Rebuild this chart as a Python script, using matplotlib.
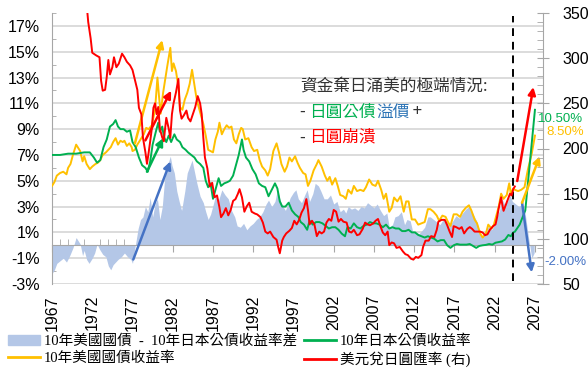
import matplotlib
matplotlib.use("Agg")
import matplotlib.pyplot as plt
from matplotlib.ticker import MultipleLocator
from matplotlib.offsetbox import TextArea, HPacker, VPacker, AnchoredOffsetbox
from matplotlib.patches import Patch
from matplotlib.lines import Line2D

# ---- data ----
us_years = [1967.0, 1967.3, 1967.6, 1968.0, 1968.4, 1968.8, 1969.0, 1969.3, 1969.6, 1970.0, 1970.2, 1970.5,
            1970.8, 1971.0, 1971.3, 1971.7, 1972.0, 1972.4, 1972.7, 1973.0, 1973.3, 1973.7, 1974.0, 1974.3,
            1974.6, 1974.9, 1975.2, 1975.5, 1975.8, 1976.0, 1976.3, 1976.6, 1976.9, 1977.0, 1977.3, 1977.6,
            1978.0, 1978.4, 1978.7, 1979.0, 1979.4, 1979.8, 1980.1, 1980.3, 1980.5, 1980.8, 1981.0, 1981.3,
            1981.7, 1981.9, 1982.1, 1982.4, 1982.7, 1982.9, 1983.2, 1983.5, 1983.8, 1984.1, 1984.4, 1984.7,
            1984.9, 1985.1, 1985.4, 1985.8, 1986.1, 1986.4, 1986.7, 1987.0, 1987.3, 1987.6, 1987.8, 1988.1,
            1988.4, 1988.7, 1989.0, 1989.3, 1989.6, 1989.9, 1990.2, 1990.5, 1990.7, 1991.0, 1991.4, 1991.8,
            1992.1, 1992.5, 1992.8, 1993.1, 1993.5, 1993.8, 1994.1, 1994.5, 1994.9, 1995.2, 1995.5, 1995.9,
            1996.2, 1996.5, 1996.8, 1997.2, 1997.5, 1997.8, 1998.2, 1998.5, 1998.8, 1999.1, 1999.5, 1999.9,
            2000.1, 2000.5, 2000.9, 2001.2, 2001.5, 2001.8, 2002.2, 2002.5, 2002.8, 2003.2, 2003.5, 2003.8,
            2004.2, 2004.5, 2004.9, 2005.3, 2005.7, 2006.0, 2006.4, 2006.8, 2007.2, 2007.5, 2007.9, 2008.2,
            2008.5, 2008.9, 2009.2, 2009.5, 2009.9, 2010.3, 2010.7, 2011.0, 2011.3, 2011.7, 2012.1, 2012.5,
            2012.9, 2013.3, 2013.7, 2014.0, 2014.4, 2014.8, 2015.1, 2015.5, 2015.9, 2016.2, 2016.5, 2016.9,
            2017.3, 2017.7, 2018.0, 2018.4, 2018.8, 2019.1, 2019.5, 2019.8, 2020.2, 2020.5, 2020.9, 2021.2,
            2021.6, 2021.9, 2022.2, 2022.5, 2022.8, 2023.1, 2023.5, 2023.8, 2024.0, 2024.3, 2024.5, 2024.9,
            2025.3, 2025.7, 2026.1, 2026.6, 2027.0]
us_yield = [4.6, 4.9, 5.4, 5.6, 5.7, 5.5, 6.0, 6.3, 7.0, 7.8, 7.6, 7.3,
            6.5, 6.9, 6.3, 5.9, 6.1, 6.3, 6.4, 6.6, 7.0, 7.2, 7.4, 7.6,
            8.0, 8.3, 7.8, 8.1, 8.0, 8.1, 7.7, 7.9, 7.6, 7.3, 7.4, 7.8,
            8.2, 8.6, 9.1, 9.0, 9.3, 10.5, 13.0, 11.5, 10.2, 11.8, 12.6, 13.8,
            15.3, 13.5, 14.1, 13.5, 12.3, 10.7, 10.5, 11.3, 11.8, 12.5, 13.6, 12.4,
            11.6, 11.0, 10.3, 9.4, 8.5, 7.4, 7.3, 7.2, 8.2, 8.8, 9.5, 8.6,
            9.0, 9.3, 9.1, 9.2, 8.2, 7.9, 8.6, 9.1, 9.0, 8.2, 8.3, 7.6,
            7.3, 7.4, 6.6, 6.1, 5.8, 5.4, 5.9, 7.3, 7.9, 7.2, 6.3, 5.7,
            6.1, 6.8, 6.5, 6.9, 6.4, 6.0, 5.6, 5.5, 4.6, 5.0, 5.8, 6.3,
            6.6, 6.1, 5.4, 5.0, 5.3, 4.7, 5.2, 4.6, 3.9, 3.8, 3.6, 4.3,
            4.0, 4.6, 4.2, 4.3, 4.2, 4.5, 5.1, 4.7, 4.6, 5.0, 4.3, 3.6,
            4.0, 2.6, 2.9, 3.7, 3.4, 3.8, 2.6, 3.4, 3.4, 2.0, 2.0, 1.6,
            1.7, 1.8, 2.8, 2.8, 2.6, 2.3, 1.9, 2.3, 2.2, 1.8, 1.5, 2.4,
            2.4, 2.2, 2.6, 2.9, 3.1, 2.7, 2.0, 1.7, 0.9, 0.6, 0.9, 1.6,
            1.3, 1.6, 2.3, 3.0, 4.0, 3.6, 3.9, 4.8, 4.0, 4.4, 4.3, 4.2,
            4.3, 4.5, 5.8, 7.1, 8.5]

jp_years = [1967.0, 1968.0, 1969.0, 1970.0, 1971.0, 1971.7, 1972.2, 1972.6, 1973.0, 1973.4, 1973.8, 1974.2,
            1974.6, 1974.9, 1975.2, 1975.5, 1975.9, 1976.3, 1976.7, 1977.0, 1977.4, 1977.8, 1978.2, 1978.6,
            1978.9, 1979.2, 1979.5, 1979.9, 1980.2, 1980.4, 1980.7, 1980.9, 1981.2, 1981.5, 1981.8, 1982.2,
            1982.5, 1982.9, 1983.2, 1983.6, 1983.9, 1984.3, 1984.7, 1985.0, 1985.4, 1985.8, 1986.1, 1986.4,
            1986.7, 1987.0, 1987.3, 1987.7, 1988.0, 1988.4, 1988.8, 1989.1, 1989.5, 1989.9, 1990.2, 1990.6,
            1990.8, 1991.1, 1991.5, 1991.9, 1992.3, 1992.7, 1993.1, 1993.5, 1993.9, 1994.3, 1994.7, 1995.0,
            1995.3, 1995.6, 1996.0, 1996.4, 1996.8, 1997.2, 1997.6, 1997.9, 1998.3, 1998.7, 1999.0, 1999.4,
            1999.8, 2000.2, 2000.6, 2001.0, 2001.4, 2001.8, 2002.2, 2002.6, 2003.0, 2003.4, 2003.7, 2004.1,
            2004.5, 2004.9, 2005.3, 2005.7, 2006.1, 2006.5, 2006.9, 2007.3, 2007.7, 2008.1, 2008.5, 2008.9,
            2009.3, 2009.7, 2010.1, 2010.5, 2010.9, 2011.3, 2011.7, 2012.1, 2012.5, 2012.9, 2013.3, 2013.7,
            2014.1, 2014.5, 2014.9, 2015.3, 2015.7, 2016.1, 2016.5, 2016.9, 2017.3, 2017.7, 2018.1, 2018.5,
            2018.9, 2019.3, 2019.7, 2020.1, 2020.5, 2020.9, 2021.3, 2021.7, 2022.1, 2022.5, 2022.9, 2023.3,
            2023.7, 2024.0, 2024.3, 2024.5, 2025.1, 2025.8, 2026.4, 2027.0]
jp_yield = [7.0, 7.0, 7.1, 7.1, 7.2, 7.2, 6.8, 6.4, 6.6, 7.6, 8.2, 9.2,
            9.4, 9.7, 9.2, 9.0, 9.0, 8.8, 8.9, 8.0, 7.6, 6.8, 6.2, 6.0,
            5.7, 6.5, 7.8, 8.8, 9.5, 8.8, 9.2, 8.4, 8.0, 8.5, 8.0, 8.6,
            8.2, 8.0, 7.6, 7.4, 7.2, 7.0, 6.8, 6.5, 6.3, 6.0, 5.0, 4.5,
            4.8, 3.6, 4.3, 5.2, 4.6, 4.8, 4.9, 5.0, 5.4, 6.3, 7.0, 8.2,
            7.4, 6.8, 6.5, 5.9, 5.5, 4.8, 4.6, 4.5, 3.8, 4.3, 4.8, 4.4,
            3.4, 3.0, 3.0, 3.3, 2.7, 2.4, 2.2, 1.8, 1.6, 1.2, 1.9, 1.6,
            1.8, 1.8, 1.7, 1.5, 1.3, 1.4, 1.4, 1.2, 0.9, 0.7, 1.4, 1.3,
            1.7, 1.4, 1.3, 1.5, 1.6, 1.8, 1.7, 1.7, 1.6, 1.4, 1.6, 1.3,
            1.4, 1.3, 1.3, 1.1, 1.1, 1.2, 1.0, 1.0, 0.8, 0.7, 0.6, 0.7,
            0.6, 0.5, 0.3, 0.4, 0.4, 0.0, -0.2, 0.0, 0.1, 0.05, 0.05, 0.05,
            0.1, -0.05, -0.2, -0.05, 0.0, 0.03, 0.1, 0.05, 0.2, 0.25, 0.3, 0.45,
            0.8, 0.7, 1.0, 1.05, 1.6, 2.7, 6.6, 10.5]

spread_years = [1967.0, 1967.3, 1967.6, 1968.0, 1968.4, 1968.8, 1969.2, 1969.6, 1970.0, 1970.2, 1970.5, 1970.8,
                1971.0, 1971.3, 1971.6, 1972.0, 1972.3, 1972.6, 1972.9, 1973.3, 1973.7, 1974.0, 1974.3, 1974.6,
                1974.9, 1975.2, 1975.6, 1976.0, 1976.4, 1976.8, 1977.0, 1977.3, 1977.7, 1978.0, 1978.3, 1978.6,
                1978.9, 1979.2, 1979.5, 1979.8, 1980.1, 1980.4, 1980.7, 1981.0, 1981.4, 1981.7, 1981.9, 1982.2,
                1982.5, 1982.8, 1983.1, 1983.5, 1983.8, 1984.1, 1984.4, 1984.7, 1985.0, 1985.4, 1985.8, 1986.1,
                1986.4, 1986.7, 1987.0, 1987.3, 1987.7, 1988.1, 1988.5, 1988.9, 1989.3, 1989.7, 1990.0, 1990.4,
                1990.8, 1991.2, 1991.6, 1992.0, 1992.4, 1992.8, 1993.2, 1993.6, 1993.9, 1994.3, 1994.7, 1995.0,
                1995.3, 1995.6, 1996.0, 1996.3, 1996.6, 1997.0, 1997.3, 1997.6, 1998.0, 1998.4, 1998.7, 1999.0,
                1999.4, 1999.7, 2000.1, 2000.4, 2000.8, 2001.2, 2001.6, 2002.0, 2002.4, 2002.8, 2003.2, 2003.5,
                2003.8, 2004.2, 2004.6, 2005.0, 2005.4, 2005.8, 2006.2, 2006.6, 2007.0, 2007.4, 2007.8, 2008.2,
                2008.6, 2008.9, 2009.3, 2009.6, 2010.0, 2010.4, 2010.8, 2011.1, 2011.5, 2011.8, 2012.2, 2012.6,
                2012.9, 2013.3, 2013.7, 2014.0, 2014.4, 2014.8, 2015.2, 2015.6, 2016.0, 2016.4, 2016.8, 2017.2,
                2017.6, 2018.0, 2018.4, 2018.8, 2019.1, 2019.5, 2019.8, 2020.2, 2020.5, 2020.9, 2021.2, 2021.6,
                2021.9, 2022.2, 2022.6, 2022.9, 2023.2, 2023.6, 2023.9, 2024.2, 2024.6, 2025.0, 2025.4, 2025.8,
                2026.2, 2026.6, 2026.9]
spread = [-2.2, -1.9, -1.4, -1.2, -1.0, -1.3, -0.8, -0.2, 0.6, 0.4, 0.1, -0.8,
          -0.4, -1.1, -1.4, -1.0, -0.6, 0.1, -0.3, -0.7, -0.9, -1.6, -1.9, -1.5,
          -1.3, -1.1, -0.9, -0.6, -0.9, -1.1, -1.4, -0.2, 1.3, 2.0, 2.2, 3.0,
          2.6, 3.7, 2.2, 3.2, 3.6, 2.0, 3.0, 5.2, 6.3, 6.9, 6.2, 5.6,
          4.2, 3.4, 2.7, 4.2, 5.6, 6.1, 6.6, 5.7, 4.8, 3.8, 3.3, 2.6,
          2.0, 2.4, 3.1, 3.8, 3.5, 4.3, 3.9, 3.6, 2.7, 2.2, 1.5, 1.4,
          1.7, 1.2, 1.5, 1.7, 2.0, 2.2, 2.6, 3.2, 3.5, 3.0, 3.4, 4.3,
          3.6, 3.1, 2.7, 3.2, 3.7, 4.1, 4.3, 3.6, 3.3, 3.9, 4.3, 3.4,
          4.0, 4.8, 4.6, 4.2, 3.6, 3.6, 3.9, 3.2, 3.4, 2.6, 2.8, 2.5,
          3.0, 2.8, 2.9, 2.7, 3.0, 2.9, 3.3, 3.1, 2.9, 3.2, 2.7, 2.3,
          2.5, 1.4, 1.6, 2.2, 2.3, 2.6, 1.6, 2.0, 1.9, 1.1, 1.0, 0.9,
          1.1, 1.4, 2.2, 2.2, 2.0, 1.8, 1.6, 2.0, 1.9, 1.5, 1.9, 2.3,
          2.1, 2.5, 2.8, 3.0, 2.7, 2.2, 1.8, 0.9, 0.7, 0.9, 1.5, 1.2,
          1.5, 2.1, 2.7, 3.6, 3.2, 3.4, 3.9, 3.4, 3.2, 3.0, 3.2, 2.4,
          0.6, -1.0, -0.6]

fx_years = [1967.0, 1971.3, 1971.5, 1971.8, 1972.0, 1972.5, 1972.9, 1973.1, 1973.3, 1973.6, 1973.8, 1974.0,
            1974.2, 1974.5, 1974.7, 1975.0, 1975.3, 1975.7, 1976.0, 1976.3, 1976.7, 1977.0, 1977.3, 1977.6,
            1977.8, 1978.1, 1978.3, 1978.6, 1978.8, 1979.0, 1979.2, 1979.4, 1979.6, 1979.8, 1980.0, 1980.2,
            1980.4, 1980.7, 1980.9, 1981.0, 1981.2, 1981.5, 1981.7, 1981.9, 1982.1, 1982.4, 1982.7, 1982.9,
            1983.1, 1983.4, 1983.7, 1983.9, 1984.2, 1984.5, 1984.8, 1985.1, 1985.4, 1985.6, 1985.8, 1986.0,
            1986.3, 1986.6, 1986.9, 1987.2, 1987.5, 1987.8, 1988.0, 1988.3, 1988.6, 1988.9, 1989.2, 1989.5,
            1989.8, 1990.1, 1990.3, 1990.6, 1990.9, 1991.2, 1991.5, 1991.8, 1992.2, 1992.5, 1992.9, 1993.2,
            1993.5, 1993.8, 1994.1, 1994.5, 1994.9, 1995.1, 1995.3, 1995.6, 1995.8, 1996.1, 1996.5, 1996.8,
            1997.1, 1997.4, 1997.7, 1998.0, 1998.3, 1998.6, 1998.8, 1999.0, 1999.3, 1999.6, 1999.9, 2000.2,
            2000.5, 2000.8, 2001.1, 2001.4, 2001.7, 2002.0, 2002.3, 2002.6, 2002.9, 2003.2, 2003.6, 2003.9,
            2004.2, 2004.5, 2004.9, 2005.2, 2005.6, 2005.9, 2006.2, 2006.5, 2006.9, 2007.2, 2007.5, 2007.8,
            2008.1, 2008.4, 2008.7, 2008.9, 2009.2, 2009.5, 2009.8, 2010.2, 2010.6, 2010.9, 2011.2, 2011.6,
            2011.9, 2012.2, 2012.5, 2012.9, 2013.1, 2013.4, 2013.8, 2014.1, 2014.5, 2014.8, 2015.0, 2015.4,
            2015.8, 2016.1, 2016.4, 2016.7, 2016.9, 2017.2, 2017.6, 2017.9, 2018.2, 2018.6, 2018.9, 2019.2,
            2019.5, 2019.8, 2020.2, 2020.5, 2020.8, 2021.1, 2021.4, 2021.8, 2022.1, 2022.3, 2022.5, 2022.8,
            2022.9, 2023.1, 2023.4, 2023.7, 2023.9, 2024.1, 2024.3, 2024.5]
usdjpy = [360, 360, 340, 322, 306, 303, 301, 275, 264, 265, 279, 298,
          282, 290, 301, 290, 294, 305, 301, 296, 292, 287, 276, 265,
          245, 238, 212, 196, 183, 195, 208, 222, 245, 250, 238, 246,
          222, 212, 208, 218, 234, 222, 212, 238, 250, 262, 277, 242,
          233, 237, 242, 234, 230, 238, 246, 258, 250, 238, 212, 190,
          178, 158, 162, 146, 148, 135, 124, 128, 134, 126, 132, 142,
          144, 150, 155, 146, 130, 136, 140, 130, 128, 127, 124, 118,
          108, 106, 108, 102, 99, 91, 84, 98, 102, 106, 109, 112,
          120, 116, 121, 129, 134, 144, 132, 116, 120, 116, 103, 108,
          106, 108, 118, 122, 120, 132, 130, 119, 122, 119, 118, 108,
          107, 110, 104, 105, 111, 118, 116, 115, 117, 120, 122, 114,
          107, 104, 108, 93, 96, 95, 90, 91, 86, 83, 82, 78,
          77, 80, 79, 82, 91, 98, 98, 103, 102, 110, 119, 121,
          121, 115, 108, 102, 114, 113, 111, 113, 106, 111, 113, 111,
          108, 108, 108, 107, 104, 105, 110, 114, 116, 124, 134, 146,
          140, 131, 138, 145, 150, 148, 155, 158]

# arrows: (x0, y0, x1, y1)
blue_arrows = [(1977.1, -1.1, 1981.7, 6.5), (2025.4, 3.3, 2026.6, -2.1)]
yellow_arrows = [(1977.3, 7.9, 1980.7, 15.9), (2025.4, 3.3, 2027.6, 6.9)]
green_arrows = [(1978.8, 5.7, 1980.8, 8.3)]
red_arrows = [(1978.6, 209, 1981.8, 264), (2024.8, 164, 2026.8, 268)]   # right axis units

year_ticks = list(range(1967, 2028, 5))
left_ticks = list(range(-3, 18, 2))
right_ticks = list(range(50, 351, 50))
today = 2024.25

c_blue = "#4472C4"
c_area = "#B4C7E7"
c_yel = "#FFC000"
c_grn = "#00B050"
c_red = "#FF0000"
c_grid = "#D9D9D9"
c_spine = "#A6A6A6"

plt.rcParams['font.family'] = ['Liberation Sans', 'Noto Sans CJK TC']

fig = plt.figure(figsize=(5.88, 3.71), dpi=100)
ax = fig.add_axes([52/588, 1-284/371, 491/588, 271/371])
ax.set_xlim(1967, 2028)
ax.set_ylim(-3, 18)

ax.fill_between(spread_years, 0, spread, color=c_area, lw=0, zorder=1)
ax.plot(us_years, us_yield, color=c_yel, lw=1.4, zorder=3)
ax.plot(jp_years, jp_yield, color=c_grn, lw=1.4, zorder=3)
ax.axvline(today, ymin=0.01, ymax=0.99, color="black", ls=(0, (4, 3)), lw=1.4, zorder=5)

def arrow(a, seg, col):
    x0, y0, x1, y1 = seg
    a.annotate("", xy=(x1, y1), xytext=(x0, y0),
               arrowprops=dict(arrowstyle="-|>", color=col, lw=1.8, mutation_scale=11,
                               shrinkA=0, shrinkB=0), zorder=6)

for s in blue_arrows:
    arrow(ax, s, c_blue)
for s in yellow_arrows:
    arrow(ax, s, c_yel)
for s in green_arrows:
    arrow(ax, s, c_grn)

# left axis
ax.set_yticks(left_ticks)
ax.set_yticklabels([f"{v}%" for v in left_ticks])
ax.yaxis.set_minor_locator(MultipleLocator(1))
ax.grid(axis='y', which='major', color=c_grid, lw=1.3, zorder=0)
ax.set_axisbelow(True)
ax.tick_params(axis='y', which='major', length=0, pad=9, labelsize=11.5)
ax.tick_params(axis='y', which='minor', direction='in', length=3, color=c_spine)

# x axis sits on the zero line
ax.spines['bottom'].set_position(('data', 0))
ax.spines['bottom'].set_color(c_spine)
ax.spines['top'].set_visible(False)
ax.spines['right'].set_visible(False)
ax.spines['left'].set_color(c_spine)
ax.set_xticks(year_ticks)
ax.xaxis.set_minor_locator(MultipleLocator(1))
ax.tick_params(axis='x', which='major', direction='out', length=5, color=c_spine, labelbottom=False)
ax.tick_params(axis='x', which='minor', direction='in', length=4, color=c_spine)

sec = ax.secondary_xaxis('bottom')
sec.set_xticks(year_ticks)
sec.set_xticklabels([str(y) for y in year_ticks], rotation=90)
sec.tick_params(length=0, pad=8, labelsize=11.5)
sec.spines['bottom'].set_visible(False)

# right axis
ax2 = ax.twinx()
ax2.set_ylim(50, 350)
ax2.plot(fx_years, usdjpy, color=c_red, lw=1.4, zorder=3)
for s in red_arrows:
    arrow(ax2, s, c_red)
ax2.set_yticks(right_ticks)
ax2.yaxis.set_minor_locator(MultipleLocator(10))
ax2.tick_params(axis='y', which='major', direction='inout', length=8, color=c_spine, pad=10, labelsize=11.5)
ax2.tick_params(axis='y', which='minor', direction='in', length=4, color=c_spine)
for k in ['top', 'left', 'bottom']:
    ax2.spines[k].set_visible(False)
ax2.spines['right'].set_color(c_spine)

# side labels for the scenario end points
fig.text(538/588, 1-119/371, "10.50%", color=c_grn, fontsize=9.5, va='center', ha='left')
fig.text(546/588, 1-132/371, "8.50%", color=c_yel, fontsize=9.5, va='center', ha='left')
fig.text(544/588, 1-262/371, "-2.00%", color=c_blue, fontsize=9.5, va='center', ha='left')

# note text
fp = dict(family=['Noto Sans CJK TC'], size=12)
def ta(s, col):
    return TextArea(s, textprops=dict(color=col, **fp))
line1 = HPacker(children=[ta("資金棄日涌美的極端情況:", "#333333")], pad=0, sep=0)
line2 = HPacker(children=[ta("- ", "#333333"), ta("日圓公債", c_grn), ta("溢價", "#2E75B6"), ta(" +", "#333333")],
                pad=0, sep=0)
line3 = HPacker(children=[ta("- ", "#333333"), ta("日圓崩潰", c_red)], pad=0, sep=0)
box = VPacker(children=[line1, line2, line3], align='left', pad=0, sep=6)
anch = AnchoredOffsetbox(loc='upper left', child=box, frameon=False, pad=0, borderpad=0,
                         bbox_to_anchor=((300-52)/491, 1-(78-13)/271), bbox_transform=ax.transAxes)
ax2.add_artist(anch)

# legend
handles = [Patch(color=c_area), Line2D([], [], color=c_yel, lw=2),
           Line2D([], [], color=c_grn, lw=2), Line2D([], [], color=c_red, lw=2)]
labels = ["10年美國國債  -  10年日本公債收益率差", "10年美國國債收益率",
          "10年日本公債收益率", "美元兌日圓匯率 (右)"]
fig.legend(handles, labels, ncol=2, loc='upper left', bbox_to_anchor=(8/588, 1-334/371),
           frameon=False, prop={'family': ['Liberation Serif', 'Noto Sans CJK TC'], 'size': 10.5},
           handlelength=2.2, handletextpad=0.25, columnspacing=0.5, labelspacing=0.25,
           borderpad=0, borderaxespad=0)

fig.savefig("out.png", dpi=100)
